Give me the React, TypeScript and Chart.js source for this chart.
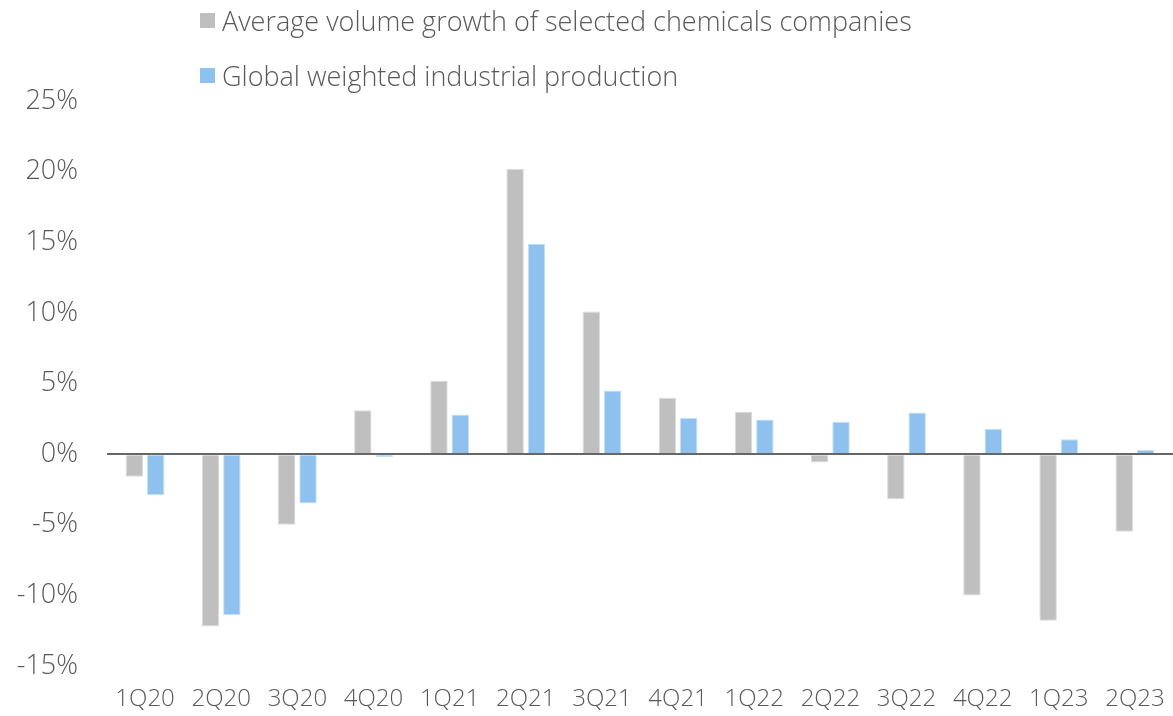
import React, { useEffect, useRef } from "react";
import { Chart, registerables } from "chart.js";

Chart.register(...registerables);

const quarters = [
  "1Q20", "2Q20", "3Q20", "4Q20",
  "1Q21", "2Q21", "3Q21", "4Q21",
  "1Q22", "2Q22", "3Q22", "4Q22",
  "1Q23", "2Q23",
];

// Average volume growth of selected chemicals companies (%)
const chemicalsVolume = [-1.6, -12.2, -5.0, 3.1, 5.2, 20.2, 10.1, 4.0, 3.0, -0.6, -3.2, -10.0, -11.8, -5.5];

// Global weighted industrial production (%)
const industrialProduction = [-2.9, -11.4, -3.5, -0.2, 2.8, 14.9, 4.5, 2.55, 2.45, 2.3, 2.95, 1.8, 1.05, 0.3];

const seriesNames = [
  "Average volume growth of selected chemicals companies",
  "Global weighted industrial production",
];

const yTicks = [-15, -10, -5, 0, 5, 10, 15, 20, 25];

const GRAY = "#bfbfbf";
const BLUE = "#8ec1ee";
const TEXT = "#595959";
const FONT = "'Open Sans', 'Liberation Sans', sans-serif";

export default function App() {
  const canvasRef = useRef<HTMLCanvasElement | null>(null);

  useEffect(() => {
    const canvas = canvasRef.current;
    if (!canvas) return;
    const chart = new Chart(canvas, {
      type: "bar",
      data: {
        labels: quarters,
        datasets: [
          {
            label: seriesNames[0],
            data: chemicalsVolume,
            backgroundColor: GRAY,
            borderColor: "#dcdcdc",
            borderWidth: 1,
            categoryPercentage: 0.56,
            barPercentage: 0.82,
          },
          {
            label: seriesNames[1],
            data: industrialProduction,
            backgroundColor: BLUE,
            borderColor: "#c4e0f8",
            borderWidth: 1,
            categoryPercentage: 0.56,
            barPercentage: 0.82,
          },
        ],
      },
      options: {
        animation: false,
        responsive: false,
        maintainAspectRatio: false,
        layout: { padding: { top: 101, right: 0, left: 0, bottom: 0 } },
        plugins: {
          legend: { display: false },
          tooltip: { enabled: false },
        },
        scales: {
          x: {
            grid: { display: false, drawTicks: true, tickLength: 19 },
            border: { display: false },
            ticks: {
              color: TEXT,
              padding: 0,
              maxRotation: 0,
              autoSkip: false,
              font: { family: FONT, size: 24, weight: "300" },
            },
            afterFit: (scale: any) => {
              scale.height = 50;
            },
          },
          y: {
            min: -15,
            max: 25,
            afterBuildTicks: (scale: any) => {
              scale.ticks = yTicks.map((v) => ({ value: v }));
            },
            grid: {
              z: 1,
              drawTicks: false,
              color: (ctx: any) => (ctx.tick && ctx.tick.value === 0 ? "#666666" : "rgba(0,0,0,0)"),
              lineWidth: (ctx: any) => (ctx.tick && ctx.tick.value === 0 ? 2 : 0),
            },
            border: { display: false },
            ticks: {
              color: TEXT,
              padding: 29,
              font: { family: FONT, size: 27, weight: "300" },
              callback: (v: any) => `${v}%`,
            },
            afterFit: (scale: any) => {
              scale.width = 107;
            },
          },
        },
      },
    });
    return () => chart.destroy();
  }, []);

  const legendColors = [GRAY, BLUE];

  return (
    <div
      style={{
        position: "absolute",
        left: 0,
        top: 0,
        width: 1173,
        height: 716,
        background: "#ffffff",
        overflow: "hidden",
      }}
    >
      <canvas ref={canvasRef} width={1173} height={716} style={{ display: "block" }} />
      <div style={{ position: "absolute", left: 200, top: 0 }}>
        {seriesNames.map((name, i) => (
          <div
            key={name}
            style={{
              display: "flex",
              alignItems: "center",
              height: 40,
              marginTop: i === 0 ? 0 : 15,
              fontFamily: FONT,
              fontWeight: 300,
              fontSize: 27,
              color: TEXT,
              whiteSpace: "nowrap",
            }}
          >
            <span
              style={{
                display: "inline-block",
                width: 15,
                height: 15,
                background: legendColors[i],
                marginRight: 7,
              }}
            />
            <span>{name}</span>
          </div>
        ))}
      </div>
    </div>
  );
}
